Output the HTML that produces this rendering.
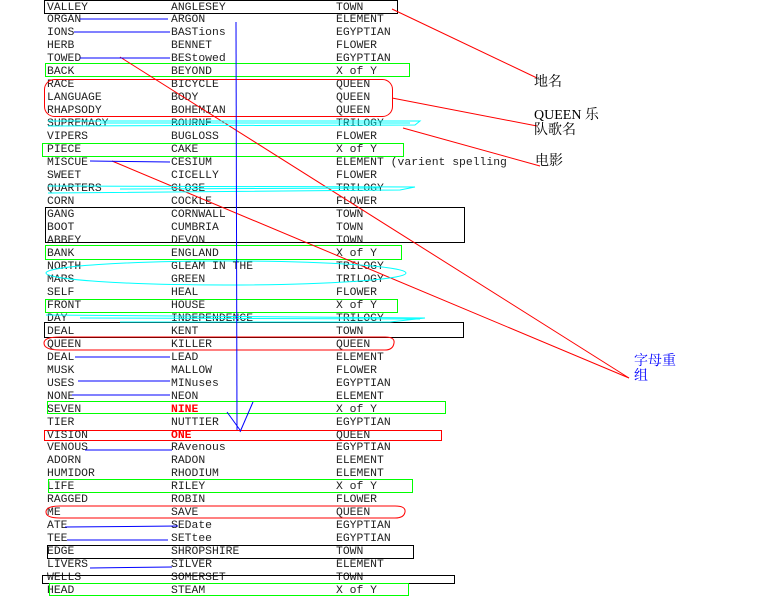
<!DOCTYPE html>
<html><head><meta charset="utf-8"><style>
body{margin:0;background:#fff;width:768px;height:598px;overflow:hidden;position:relative;font-family:"Liberation Mono","Noto Sans CJK SC",monospace;font-size:11.4px;color:#222}
.r{position:absolute;left:0;height:13px;line-height:13px;white-space:pre}
.r span{position:absolute}
.a{left:47px}.b{left:171px}.c{left:336px}
.red{color:#f00;font-weight:bold}
.lab{position:absolute;font-family:"Liberation Serif","Noto Serif CJK SC","Noto Sans CJK SC",serif;font-size:14px;line-height:15px;color:#000;white-space:nowrap}
svg{position:absolute;left:0;top:0}
rect{shape-rendering:crispEdges}
</style></head><body>
<div id="rows"></div>
<script>
const d=[["VALLEY","ANGLESEY","TOWN"],["ORGAN","ARGON","ELEMENT"],["IONS","BASTions","EGYPTIAN"],["HERB","BENNET","FLOWER"],["TOWED","BEStowed","EGYPTIAN"],["BACK","BEYOND","X of Y"],["RACE","BICYCLE","QUEEN"],["LANGUAGE","BODY","QUEEN"],["RHAPSODY","BOHEMIAN","QUEEN"],["SUPREMACY","BOURNE","TRILOGY"],["VIPERS","BUGLOSS","FLOWER"],["PIECE","CAKE","X of Y"],["MISCUE","CESIUM","ELEMENT (varient spelling"],["SWEET","CICELLY","FLOWER"],["QUARTERS","CLOSE","TRILOGY"],["CORN","COCKLE","FLOWER"],["GANG","CORNWALL","TOWN"],["BOOT","CUMBRIA","TOWN"],["ABBEY","DEVON","TOWN"],["BANK","ENGLAND","X of Y"],["NORTH","GLEAM IN THE","TRILOGY"],["MARS","GREEN","TRILOGY"],["SELF","HEAL","FLOWER"],["FRONT","HOUSE","X of Y"],["DAY","INDEPENDENCE","TRILOGY"],["DEAL","KENT","TOWN"],["QUEEN","KILLER","QUEEN"],["DEAL","LEAD","ELEMENT"],["MUSK","MALLOW","FLOWER"],["USES","MINuses","EGYPTIAN"],["NONE","NEON","ELEMENT"],["SEVEN","NINE","X of Y"],["TIER","NUTTIER","EGYPTIAN"],["VISION","ONE","QUEEN"],["VENOUS","RAvenous","EGYPTIAN"],["ADORN","RADON","ELEMENT"],["HUMIDOR","RHODIUM","ELEMENT"],["LIFE","RILEY","X of Y"],["RAGGED","ROBIN","FLOWER"],["ME","SAVE","QUEEN"],["ATE","SEDate","EGYPTIAN"],["TEE","SETtee","EGYPTIAN"],["EDGE","SHROPSHIRE","TOWN"],["LIVERS","SILVER","ELEMENT"],["WELLS","SOMERSET","TOWN"],["HEAD","STEAM","X of Y"]];
let h="";d.forEach((r,i)=>{const cl=(i==31||i==33)?' red':'';h+=`<div class="r" style="top:${1.5+i*12.97}px"><span class="a">${r[0]}</span><span class="b${cl}">${r[1]}</span><span class="c">${r[2]}</span></div>`});
document.getElementById("rows").innerHTML=h;
</script>
<svg width="768" height="598" fill="none" stroke-width="1">
<g stroke="#000">
<rect x="44.5" y="0.5" width="353" height="13"/>
<rect x="45.5" y="207.5" width="419" height="35"/>
<rect x="44.5" y="322.5" width="419" height="15"/>
<rect x="47.5" y="545.5" width="366" height="13"/>
<rect x="42.5" y="575.5" width="412" height="8"/>
</g>
<g stroke="#00ff00">
<rect x="45.5" y="63.5" width="364" height="13"/>
<rect x="42.5" y="143.5" width="361" height="13"/>
<rect x="45.5" y="245.5" width="356" height="14"/>
<rect x="45.5" y="299.5" width="352" height="13"/>
<rect x="47.5" y="401.5" width="398" height="12"/>
<rect x="48.5" y="479.5" width="364" height="13"/>
<rect x="49.5" y="583.5" width="359" height="12"/>
</g>
<g stroke="#f00">
<rect x="44.5" y="79.5" width="348" height="37" rx="10" style="shape-rendering:auto"/>
<path d="M44 343 Q44 337 60 337 L385 337 Q395 337 394 343 Q393 350 385 350 L60 350 Q44 350 44 343Z"/>
<rect x="44.5" y="430.5" width="397" height="10"/>
<path d="M46 512 Q46 506 60 506 L395 506 Q406 506 405 512 Q404 518 395 518 L60 518 Q46 518 46 512Z"/>
<line x1="392" y1="9" x2="537" y2="78"/>
<line x1="392" y1="98" x2="537" y2="126"/>
<line x1="403" y1="128" x2="540" y2="166"/>
<line x1="120" y1="57" x2="629" y2="378"/>
<line x1="112" y1="161" x2="629" y2="378"/>
</g>
<g stroke="#0ff">
<path d="M48 121 L420 121 L415 125 L48 126 M100 123 L410 123"/>
<path d="M48 186 L415 187 L400 190 L48 193 M120 189 L380 188"/>
<ellipse cx="226" cy="273" rx="180" ry="12"/>
<path d="M46 315 L425 318 L390 322 L120 322 M80 318 L420 319"/>
</g>
<g stroke="#00f">
<line x1="236" y1="22" x2="237" y2="430"/>
<line x1="227" y1="412" x2="240" y2="430"/>
<line x1="253" y1="402" x2="240" y2="432"/>
<line x1="80" y1="19" x2="168" y2="19"/>
<line x1="74" y1="32" x2="170" y2="32"/>
<line x1="80" y1="58" x2="170" y2="58"/>
<line x1="90" y1="161" x2="170" y2="162"/>
<line x1="75" y1="357" x2="170" y2="357"/>
<line x1="78" y1="381" x2="170" y2="381"/>
<line x1="72" y1="395" x2="170" y2="395"/>
<line x1="85" y1="450" x2="172" y2="450"/>
<line x1="65" y1="527" x2="178" y2="526"/>
<line x1="67" y1="540" x2="168" y2="540"/>
<line x1="90" y1="568" x2="172" y2="567"/>
</g>
</svg>
<div class="lab" style="left:534px;top:75px">地名</div>
<div class="lab" style="left:534px;top:108px">QUEEN 乐<br>队歌名</div>
<div class="lab" style="left:535px;top:154px">电影</div>
<div class="lab" style="left:634px;top:354px;color:#00f">字母重<br>组</div>
</body></html>
